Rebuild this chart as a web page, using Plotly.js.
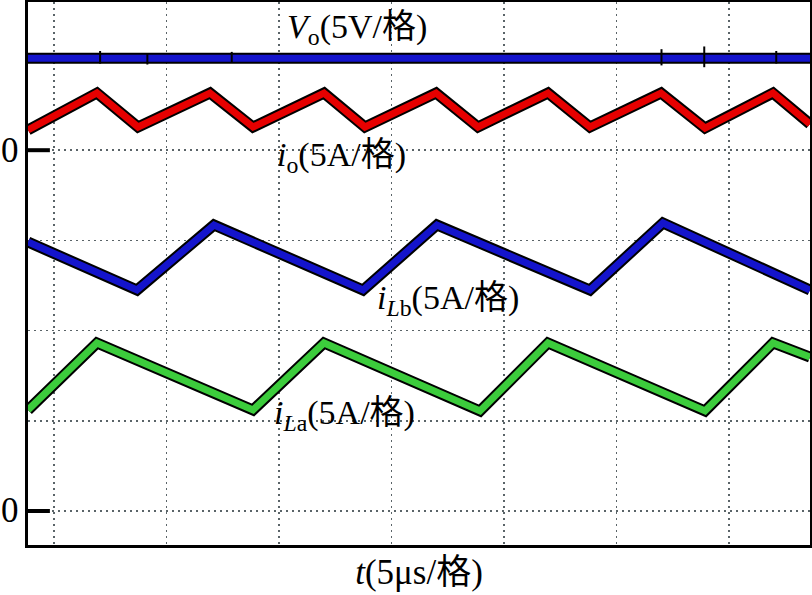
<!DOCTYPE html>
<html>
<head>
<meta charset="utf-8">
<script src="https://cdn.plot.ly/plotly-3.0.1.min.js"></script>
<style>html,body{margin:0;padding:0;background:#fff;}#chart{width:812px;height:595px;}</style>
</head>
<body>
<div id="chart"></div>
<script>
// time axis in divisions (5 µs/div); signal values in divisions
var vo_x = [-0.231, 6.72];
var vo_y = [5.02, 5.02];
// small switching spikes on Vo (x position, top, bottom)
var spike_x = [0.41, 0.83, 1.58, 5.40, 5.78, 6.42];
var spike_top = [5.10, 5.07, 5.09, 5.12, 5.15, 5.10];
var spike_bot = [4.96, 4.95, 4.97, 4.94, 4.92, 4.96];

var io_x = [-0.231, 0.382, 0.747, 1.387, 1.769, 2.400, 2.764, 3.396, 3.769, 4.391, 4.764, 5.396, 5.787, 6.391, 6.72];
var io_y = [4.224, 4.634, 4.257, 4.634, 4.257, 4.634, 4.257, 4.634, 4.257, 4.634, 4.257, 4.634, 4.246, 4.634, 4.290];

var ilb_x = [-0.231, 0.738, 1.422, 2.747, 3.404, 4.764, 5.413, 6.72];
var ilb_y = [2.982, 2.450, 3.171, 2.450, 3.171, 2.450, 3.193, 2.450];

var ila_x = [-0.231, 0.382, 1.769, 2.400, 3.787, 4.391, 5.787, 6.391, 6.72];
var ila_y = [1.120, 1.863, 1.120, 1.863, 1.109, 1.863, 1.109, 1.863, 1.707];

var zeroLevels = [0, 4];
var labels = ['<i>V</i><sub>o</sub>(5V/格)', '<i>i</i><sub>o</sub>(5A/格)', '<i>i</i><sub><i>L</i>b</sub>(5A/格)', '<i>i</i><sub><i>L</i>a</sub>(5A/格)'];
var labelX = [2.053, 1.964, 2.853, 1.938];
var labelY = [5.344, 3.925, 2.339, 1.064];
var xTitle = '<i>t</i>(5μs/格)';

var FONT = 'Liberation Serif, Times New Roman, Noto Sans CJK SC, serif';

function pair(x, y, color) {
  return [
    {x: x, y: y, type: 'scatter', mode: 'lines', line: {color: '#000', width: 11}, hoverinfo: 'skip', showlegend: false},
    {x: x, y: y, type: 'scatter', mode: 'lines', line: {color: color, width: 7}, hoverinfo: 'skip', showlegend: false}
  ];
}
var sx = [], sy = [];
for (var k = 0; k < spike_x.length; k++) {
  sx.push(spike_x[k], spike_x[k], null);
  sy.push(spike_top[k], spike_bot[k], null);
}
var data = [].concat(
  pair(vo_x, vo_y, '#1414cc'),
  [{x: sx, y: sy, type: 'scatter', mode: 'lines', line: {color: '#000', width: 2}, connectgaps: false, hoverinfo: 'skip', showlegend: false}],
  pair(io_x, io_y, '#e60000'),
  pair(ilb_x, ilb_y, '#1414cc'),
  pair(ila_x, ila_y, '#3ccc3c')
);

var annotations = [];
for (var i = 0; i < labels.length; i++) {
  annotations.push({x: labelX[i], y: labelY[i], xref: 'x', yref: 'y', text: labels[i], showarrow: false,
    xanchor: 'left', yanchor: 'middle', font: {family: FONT, size: 34, color: '#000'}});
}
var shapes = [];
for (var j = 0; j < zeroLevels.length; j++) {
  annotations.push({x: -0.023, y: zeroLevels[j], xref: 'paper', yref: 'y', text: '0', showarrow: false,
    xanchor: 'center', yanchor: 'middle', font: {family: FONT, size: 35, color: '#000'}});
  shapes.push({type: 'line', xref: 'paper', yref: 'y', x0: -0.003, x1: 0.028, y0: zeroLevels[j], y1: zeroLevels[j],
    line: {color: '#000', width: 4}});
}

var layout = {
  width: 812, height: 595,
  margin: {l: 28, r: 2, t: 2, b: 50},
  paper_bgcolor: '#fff', plot_bgcolor: '#fff',
  showlegend: false,
  xaxis: {range: [-0.231, 6.72], tick0: 0, dtick: 1, showticklabels: false, ticks: '',
    showgrid: true, gridcolor: '#5a6468', gridwidth: 1.5, griddash: '2px,4px', zeroline: false,
    showline: true, mirror: true, linecolor: '#000', linewidth: 3,
    title: {text: xTitle, font: {family: FONT, size: 35, color: '#000'}, standoff: 13}},
  yaxis: {range: [-0.377, 5.643], tick0: 0, dtick: 1, showticklabels: false, ticks: '',
    showgrid: true, gridcolor: '#5a6468', gridwidth: 1.5, griddash: '2px,4px', zeroline: false,
    showline: true, mirror: true, linecolor: '#000', linewidth: 3},
  annotations: annotations,
  shapes: shapes
};
Plotly.newPlot('chart', data, layout, {displayModeBar: false, staticPlot: true});
</script>
</body>
</html>
